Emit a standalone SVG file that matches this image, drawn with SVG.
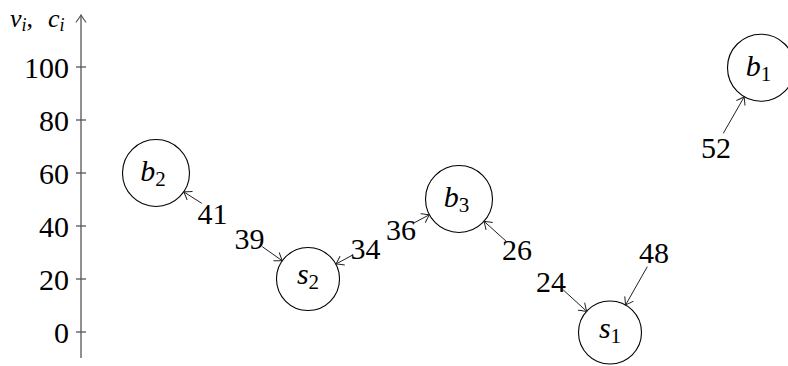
<svg xmlns="http://www.w3.org/2000/svg" width="788" height="366" viewBox="0 0 788 366">
<style>
text{font-family:'Liberation Serif','DejaVu Serif',serif;font-size:30px;fill:#000}
.it{font-style:italic}
.sub{font-size:21px;font-style:normal}
.node circle{fill:none;stroke:#000;stroke-width:1.1}
.edge{stroke:#222;stroke-width:1;fill:none;marker-end:url(#to)}
.axis{stroke:#555;stroke-width:1.3;fill:none}
.tick{stroke:#555;stroke-width:1.3}
.num{text-anchor:end}
.lbl{text-anchor:middle}
.ttl{font-size:26px}
.ttl .sub{font-size:18px}
</style>
<defs>
<marker id="to" markerUnits="userSpaceOnUse" markerWidth="14" markerHeight="14" refX="0" refY="0" viewBox="-8 -7 10 14" orient="auto" overflow="visible">
<path d="M-7,-4.8 Q-2,-1.2 0,0 Q-2,1.2 -7,4.8" fill="none" stroke="#222" stroke-width="1" stroke-linecap="round"/>
</marker>
<marker id="toa" markerUnits="userSpaceOnUse" markerWidth="14" markerHeight="14" refX="0" refY="0" viewBox="-8 -7 10 14" orient="auto" overflow="visible">
<path d="M-7,-4.8 Q-2,-1.2 0,0 Q-2,1.2 -7,4.8" fill="none" stroke="#555" stroke-width="1.2" stroke-linecap="round"/>
</marker>
</defs>
<g id="axis">
<line class="axis" x1="81" y1="358" x2="81" y2="15" marker-end="url(#toa)"/>
<line class="tick" x1="76" y1="67" x2="86" y2="67"/>
<line class="tick" x1="76" y1="120" x2="86" y2="120"/>
<line class="tick" x1="76" y1="173" x2="86" y2="173"/>
<line class="tick" x1="76" y1="226" x2="86" y2="226"/>
<line class="tick" x1="76" y1="279" x2="86" y2="279"/>
<line class="tick" x1="76" y1="332" x2="86" y2="332"/>
<text class="num" x="69" y="78">100</text>
<text class="num" x="69" y="131">80</text>
<text class="num" x="69" y="184">60</text>
<text class="num" x="69" y="237">40</text>
<text class="num" x="69" y="290">20</text>
<text class="num" x="69" y="343">0</text>
<text class="ttl" x="10" y="27"><tspan class="it">v</tspan><tspan class="sub" dy="4" style="font-style:italic">i</tspan><tspan dy="-4">,</tspan><tspan class="it" x="48">c</tspan><tspan class="sub" dy="4" style="font-style:italic">i</tspan></text>
</g>
<g id="b1" class="node">
<circle cx="761" cy="67.7" r="33.5"/>
<text class="lbl" x="758.5" y="76"><tspan class="it">b</tspan><tspan class="sub" dy="5">1</tspan></text>
</g>
<g id="b2" class="node">
<circle cx="156" cy="173" r="33.5"/>
<text class="lbl" x="153" y="181"><tspan class="it">b</tspan><tspan class="sub" dy="5">2</tspan></text>
</g>
<g id="b3" class="node">
<circle cx="459" cy="199" r="33.5"/>
<text class="lbl" x="456.5" y="207"><tspan class="it">b</tspan><tspan class="sub" dy="5">3</tspan></text>
</g>
<g id="s1" class="node">
<circle cx="610" cy="332.5" r="31.5"/>
<text class="lbl" x="610" y="337.5"><tspan class="it">s</tspan><tspan class="sub" dy="5">1</tspan></text>
</g>
<g id="s2" class="node">
<circle cx="308" cy="279" r="31.5"/>
<text class="lbl" x="308" y="284"><tspan class="it">s</tspan><tspan class="sub" dy="5">2</tspan></text>
</g>
<g id="connectors">
<line class="edge" x1="201.7" y1="203.3" x2="183.7" y2="191.8"/>
<line class="edge" x1="262.3" y1="246.7" x2="282.3" y2="260.8"/>
<line class="edge" x1="352.7" y1="255" x2="336" y2="264"/>
<line class="edge" x1="413.3" y1="223.3" x2="429.4" y2="214.7"/>
<line class="edge" x1="506.7" y1="241.7" x2="484" y2="221.3"/>
<line class="edge" x1="563.3" y1="290" x2="586.7" y2="311.3"/>
<line class="edge" x1="647.3" y1="266.7" x2="625.5" y2="305.1"/>
<line class="edge" x1="723.3" y1="133.3" x2="744.3" y2="96.7"/>
<text class="lbl" x="212.5" y="224">41</text>
<text class="lbl" x="249.5" y="249">39</text>
<text class="lbl" x="365.5" y="259">34</text>
<text class="lbl" x="401" y="240">36</text>
<text class="lbl" x="517" y="260">26</text>
<text class="lbl" x="551" y="291.5">24</text>
<text class="lbl" x="654" y="263">48</text>
<text class="lbl" x="716" y="158">52</text>
</g>
</svg>
